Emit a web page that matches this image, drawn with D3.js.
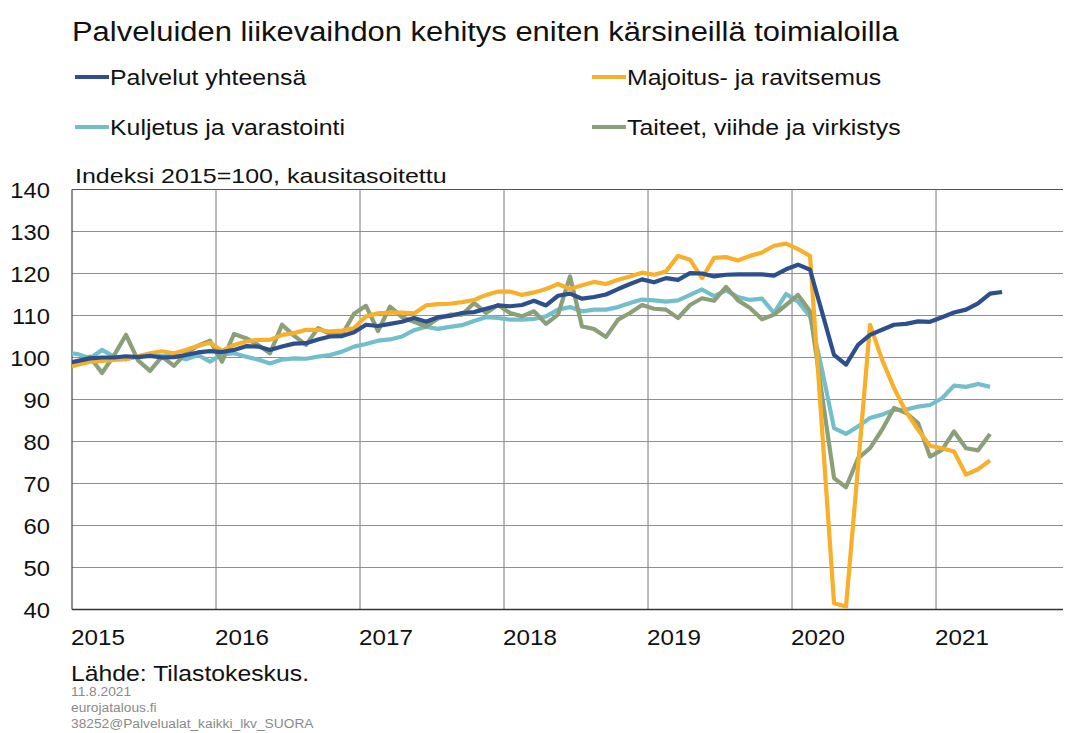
<!DOCTYPE html>
<html>
<head>
<meta charset="utf-8">
<title>Palveluiden liikevaihdon kehitys</title>
<script src="https://cdn.jsdelivr.net/npm/d3@7"></script>
<style>
  body { margin: 0; background: #fff; }
  svg { font-family: "Liberation Sans", Arial, sans-serif; }
</style>
</head>
<body>
<div id="chart"></div>
<script>
// kuukausisarjat, ensimmäinen arvo = joulukuu 2014 (leikkautuu reunaan)
var palvelut = [98.6,
  99.2, 99.8, 100.0, 100.0, 100.3, 100.1, 100.4, 100.0, 100.1, 100.6, 101.2, 101.5,
  101.3, 101.8, 102.7, 102.6, 101.8, 102.6, 103.3, 103.4, 104.3, 105.0, 105.1, 106.0,
  107.8, 107.5, 108.0, 108.5, 109.4, 108.5, 109.6, 109.9, 110.6, 110.8, 111.6, 112.4,
  112.2, 112.5, 113.5, 112.4, 114.7, 115.2, 114.0, 114.4, 115.0, 116.3, 117.5, 118.6,
  117.9, 118.9, 118.5, 120.1, 120.0, 119.3, 119.7, 119.8, 119.8, 119.8, 119.5, 121.0,
  122.1, 120.9, 110.8, 100.6, 98.3, 103.0, 105.4, 106.6, 107.8, 108.0, 108.6, 108.5,
  109.6, 110.7, 111.4, 112.9, 115.2, 115.6];
var majoitus = [97.5,
  98.3, 99.0, 99.2, 99.4, 99.6, 100.3, 101.0, 101.5, 101.0, 101.8, 102.8, 103.5,
  101.6, 103.0, 103.8, 104.2, 104.2, 105.4, 105.8, 106.6, 106.6, 106.2, 106.4, 107.0,
  109.8, 110.5, 110.7, 110.7, 110.5, 112.4, 112.7, 112.8, 113.2, 113.7, 114.9, 115.7,
  115.7, 114.9, 115.5, 116.3, 117.5, 116.3, 117.2, 118.0, 117.5, 118.5, 119.3, 120.2,
  119.7, 120.5, 124.2, 123.3, 118.9, 123.7, 123.9, 123.1, 124.2, 125.0, 126.6, 127.1,
  125.8, 124.2, 83.0, 41.5, 40.7, 74.0, 107.8, 99.5, 92.7, 87.1, 82.8, 79.0,
  78.4, 77.6, 72.1, 73.4, 75.5];
var kuljetus = [101.2,
  100.8, 99.8, 101.8, 100.2, 99.6, 100.3, 100.8, 100.3, 100.5, 99.6, 100.6, 99.0,
  100.8, 101.0, 100.2, 99.5, 98.6, 99.5, 99.8, 99.7, 100.2, 100.6, 101.4, 102.6,
  103.2, 104.0, 104.3, 105.0, 106.5, 107.3, 106.8, 107.3, 107.7, 108.7, 109.6, 109.4,
  109.0, 109.0, 109.2, 109.8, 111.4, 112.0, 111.0, 111.4, 111.4, 112.0, 113.0, 113.8,
  113.6, 113.3, 113.6, 114.9, 116.2, 114.6, 116.0, 114.4, 113.7, 114.0, 110.6, 115.1,
  113.3, 109.8, 97.1, 83.2, 81.8, 83.6, 85.6, 86.4, 87.5, 87.6, 88.3, 88.7,
  90.3, 93.3, 93.0, 93.7, 93.0];
var taiteet = [97.2,
  98.8, 100.2, 96.3, 100.5, 105.4, 99.3, 96.8, 100.2, 98.0, 101.0, 102.8, 104.0,
  99.0, 105.6, 104.6, 103.0, 101.0, 107.8, 105.2, 103.0, 107.0, 105.6, 105.4, 110.4,
  112.3, 106.3, 112.1, 109.6, 108.5, 107.4, 109.3, 110.2, 110.2, 113.0, 110.6, 112.5,
  110.6, 109.8, 111.0, 108.0, 110.2, 119.3, 107.4, 106.8, 104.9, 109.0, 110.6, 112.5,
  111.6, 111.4, 109.4, 112.5, 114.1, 113.5, 116.8, 113.6, 111.8, 109.1, 110.2, 112.5,
  114.9, 111.0, 91.0, 71.3, 69.1, 76.0, 78.4, 82.8, 88.0, 86.8, 84.4, 76.4,
  78.0, 82.4, 78.4, 77.9, 81.8];

var seriesNames = ["Palvelut yhteensä", "Majoitus- ja ravitsemus", "Kuljetus ja varastointi", "Taiteet, viihde ja virkistys"];
var seriesColors = ["#2d4f8b", "#f8b02a", "#72bfcb", "#8b9f78"];
var years = [2015, 2016, 2017, 2018, 2019, 2020, 2021];
var yTicks = [40, 50, 60, 70, 80, 90, 100, 110, 120, 130, 140];

(function(){
  var W = 1065, H = 733;
  var pLeft = 72, pRight = 1063, pTop = 189.5, pBottom = 609.5;

  var svg = d3.select("#chart").append("svg")
    .attr("width", W).attr("height", H);

  // kuukausi-indeksi: 0 = tammikuu 2015, pisteet kuukauden keskellä
  var x = d3.scaleLinear().domain([0, 82.58]).range([pLeft, pRight]);
  var y = d3.scaleLinear().domain([40, 140]).range([pBottom, pTop]);

  // leveämpi kirjasin kuin Liberation Sans: venytetään tekstiä vaakasuunnassa
  function stretch(sel, k){
    sel.each(function(){
      var w = this.getComputedTextLength();
      d3.select(this).attr("textLength", w * k).attr("lengthAdjust", "spacingAndGlyphs");
    });
  }

  // otsikko
  svg.append("text").attr("x", 72).attr("y", 41)
    .attr("font-size", 27).attr("fill", "#111")
    .text("Palveluiden liikevaihdon kehitys eniten kärsineillä toimialoilla")
    .call(stretch, 1.145);

  // selite
  var legendPos = [[75, 77], [592, 77], [75, 127], [592, 127]];
  seriesNames.forEach(function(name, i){
    var p = legendPos[i];
    svg.append("line").attr("x1", p[0]).attr("x2", p[0] + 34)
      .attr("y1", p[1]).attr("y2", p[1])
      .attr("stroke", seriesColors[i]).attr("stroke-width", 4);
    svg.append("text").attr("x", p[0] + 35).attr("y", p[1] + 8)
      .attr("font-size", 22).attr("fill", "#111")
      .text(name)
      .call(stretch, 1.13);
  });

  svg.append("text").attr("x", 75).attr("y", 183)
    .attr("font-size", 21).attr("fill", "#111")
    .text("Indeksi 2015=100, kausitasoitettu")
    .call(stretch, 1.19);

  // ruudukko
  svg.append("g").selectAll("line").data(yTicks.filter(function(d){ return d > 40; }))
    .enter().append("line")
    .attr("x1", pLeft).attr("x2", pRight)
    .attr("y1", function(d){ return y(d); }).attr("y2", function(d){ return y(d); })
    .attr("stroke", function(d){ return d == 140 ? "#555" : "#8f8f8f"; })
    .attr("stroke-width", 1.2);

  svg.append("g").selectAll("line").data(years)
    .enter().append("line")
    .attr("x1", function(d){ return x((d - 2015) * 12); })
    .attr("x2", function(d){ return x((d - 2015) * 12); })
    .attr("y1", pTop).attr("y2", pBottom)
    .attr("stroke", function(d){ return d == 2015 ? "#444" : "#8f8f8f"; })
    .attr("stroke-width", 1.2);

  svg.append("line").attr("x1", pLeft).attr("x2", pRight)
    .attr("y1", pBottom).attr("y2", pBottom)
    .attr("stroke", "#333").attr("stroke-width", 1.6);

  // akselien tekstit
  svg.append("g").selectAll("text").data(yTicks)
    .enter().append("text")
    .attr("x", 50).attr("y", function(d){ return y(d) + 8; })
    .attr("text-anchor", "end").attr("font-size", 22).attr("fill", "#111")
    .text(function(d){ return d; })
    .call(stretch, 1.08);

  svg.append("g").selectAll("text").data(years)
    .enter().append("text")
    .attr("x", function(d){ return x((d - 2015) * 12) - 1; })
    .attr("y", 645)
    .attr("font-size", 22).attr("fill", "#111")
    .text(function(d){ return d; })
    .call(stretch, 1.1);

  // viivat
  svg.append("clipPath").attr("id", "plotclip")
    .append("rect").attr("x", pLeft).attr("y", 0).attr("width", pRight - pLeft).attr("height", H);

  var line = d3.line()
    .x(function(d, i){ return x(i - 1 + 0.5); })
    .y(function(d){ return y(d); });

  var allSeries = [kuljetus, taiteet, majoitus, palvelut];
  var allColors = [seriesColors[2], seriesColors[3], seriesColors[1], seriesColors[0]];
  svg.append("g").attr("clip-path", "url(#plotclip)")
    .selectAll("path").data(allSeries)
    .enter().append("path")
    .attr("d", line)
    .attr("fill", "none")
    .attr("stroke", function(d, i){ return allColors[i]; })
    .attr("stroke-width", 4.2)
    .attr("stroke-linejoin", "round");

  // lähde
  svg.append("text").attr("x", 71).attr("y", 681)
    .attr("font-size", 22.5).attr("fill", "#111")
    .text("Lähde: Tilastokeskus.")
    .call(stretch, 1.1);
  var notes = ["11.8.2021", "eurojatalous.fi", "38252@Palvelualat_kaikki_lkv_SUORA"];
  svg.append("g").selectAll("text").data(notes)
    .enter().append("text")
    .attr("x", 71).attr("y", function(d, i){ return 696 + i * 16; })
    .attr("font-size", 12.5).attr("fill", "#8a8a8a")
    .text(function(d){ return d; })
    .call(stretch, 1.1);
})();
</script>
</body>
</html>
